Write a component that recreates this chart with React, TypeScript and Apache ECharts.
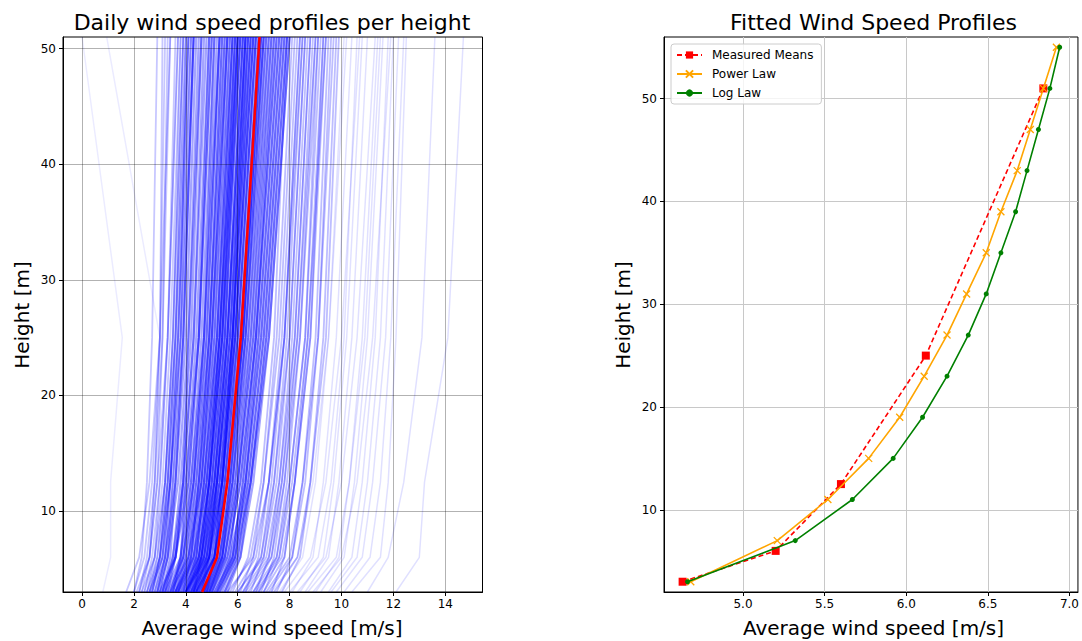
import React, { useEffect, useRef } from "react";
import * as echarts from "echarts";

// Measurement heights [m]
const heights = [3, 6, 12.5, 25, 51];

// Tick values
const leftXTicks = [0, 2, 4, 6, 8, 10, 12, 14];
const leftYTicks = [10, 20, 30, 40, 50];
const rightXTicks = [5.0, 5.5, 6.0, 6.5, 7.0];
const rightYTicks = [10, 20, 30, 40, 50];

// Daily profiles: wind speed [m/s] at heights 3, 6, 12.5, 25, 51 m
const coreDays = [
  [2.7, 3.0, 3.3, 3.6, 4.0], [2.9, 3.2, 3.4, 3.7, 4.1], [2.6, 3.1, 3.4, 3.8, 4.2], [3.0, 3.3, 3.5, 3.9, 4.3],
  [2.8, 3.2, 3.6, 3.9, 4.3], [3.1, 3.4, 3.6, 4.0, 4.4], [2.9, 3.3, 3.7, 4.1, 4.5], [3.2, 3.5, 3.8, 4.2, 4.6],
  [3.0, 3.6, 3.9, 4.1, 4.6], [3.3, 3.6, 3.9, 4.3, 4.7], [3.1, 3.5, 3.9, 4.3, 4.8], [3.4, 3.8, 4.0, 4.4, 4.9],
  [3.2, 3.6, 4.1, 4.5, 4.9], [3.5, 3.8, 4.1, 4.5, 5.0], [3.3, 3.9, 4.2, 4.6, 5.1], [3.6, 4.0, 4.3, 4.7, 5.1],
  [3.4, 3.9, 4.3, 4.7, 5.2], [3.7, 4.1, 4.4, 4.8, 5.3], [3.5, 3.9, 4.3, 4.8, 5.3], [3.6, 4.1, 4.5, 4.9, 5.4],
  [3.9, 4.2, 4.5, 4.9, 5.4], [3.7, 4.2, 4.5, 5.0, 5.5], [3.5, 4.0, 4.4, 4.9, 5.5], [3.8, 4.3, 4.6, 5.0, 5.6],
  [4.0, 4.4, 4.7, 5.1, 5.6], [3.6, 4.2, 4.6, 5.1, 5.7], [3.9, 4.4, 4.7, 5.2, 5.7], [4.1, 4.5, 4.8, 5.2, 5.8],
  [3.7, 4.3, 4.7, 5.2, 5.8], [4.0, 4.5, 4.9, 5.3, 5.9], [4.2, 4.6, 4.9, 5.4, 5.9], [3.9, 4.5, 4.9, 5.4, 6.0],
  [4.1, 4.6, 5.0, 5.4, 6.0], [4.3, 4.7, 5.0, 5.5, 6.0], [4.0, 4.6, 5.0, 5.5, 6.1], [4.2, 4.7, 5.1, 5.5, 6.1],
  [4.4, 4.8, 5.1, 5.6, 6.2], [4.1, 4.7, 5.1, 5.6, 6.2], [4.3, 4.8, 5.2, 5.7, 6.3], [4.0, 4.6, 5.1, 5.6, 6.3],
  [4.5, 4.9, 5.2, 5.7, 6.3], [4.2, 4.8, 5.2, 5.7, 6.4], [4.4, 4.9, 5.3, 5.8, 6.4], [4.3, 4.9, 5.3, 5.8, 6.5],
  [4.6, 5.0, 5.4, 5.9, 6.5], [4.4, 5.0, 5.4, 5.9, 6.6], [4.2, 4.9, 5.4, 5.9, 6.6], [4.5, 5.1, 5.5, 6.0, 6.7],
  [4.7, 5.2, 5.5, 6.0, 6.7], [4.4, 5.1, 5.5, 6.1, 6.8], [4.6, 5.2, 5.6, 6.1, 6.8], [4.8, 5.3, 5.7, 6.2, 6.9],
  [4.5, 5.1, 5.6, 6.2, 6.9], [4.7, 5.3, 5.7, 6.3, 7.0], [4.9, 5.4, 5.8, 6.3, 7.0], [4.6, 5.3, 5.8, 6.3, 7.1],
  [4.8, 5.4, 5.8, 6.4, 7.1], [5.0, 5.5, 5.9, 6.4, 7.2], [4.7, 5.4, 5.9, 6.5, 7.2], [4.9, 5.5, 6.0, 6.5, 7.3],
  [5.2, 5.7, 6.0, 6.6, 7.3], [4.8, 5.5, 6.0, 6.6, 7.4], [5.0, 5.6, 6.1, 6.7, 7.4], [5.3, 5.8, 6.2, 6.7, 7.5],
  [4.9, 5.6, 6.1, 6.7, 7.5], [5.1, 5.8, 6.2, 6.8, 7.6], [5.4, 5.9, 6.3, 6.8, 7.6], [5.0, 5.7, 6.3, 6.9, 7.7],
  [5.2, 5.9, 6.3, 6.9, 7.7], [5.5, 6.0, 6.4, 7.0, 7.8], [5.1, 5.8, 6.4, 7.0, 7.8], [5.3, 6.0, 6.5, 7.1, 7.9],
  [5.6, 6.1, 6.5, 7.1, 7.9], [5.2, 5.9, 6.5, 7.2, 8.0], [5.5, 6.1, 6.6, 7.2, 8.0], [3.4, 4.1, 4.6, 5.0, 5.6],
  [3.7, 4.4, 4.8, 5.3, 6.0], [4.6, 4.9, 5.2, 5.6, 6.2], [4.0, 4.7, 5.2, 5.8, 6.5], [4.3, 4.9, 5.4, 6.0, 6.7],
  [4.9, 5.4, 5.7, 6.2, 6.9], [3.8, 4.5, 4.9, 5.4, 6.1], [4.3, 4.6, 4.9, 5.3, 5.8], [4.7, 5.1, 5.4, 5.8, 6.4],
  [4.0, 4.8, 5.3, 5.9, 6.6], [3.2, 3.8, 4.2, 4.7, 5.3], [3.1, 3.6, 4.0, 4.5, 5.0], [4.4, 5.1, 5.6, 6.2, 7.0],
  [3.6, 4.3, 4.8, 5.3, 5.9], [4.8, 5.1, 5.4, 5.8, 6.3],
];

const calmDays = [
  [2.0, 2.3, 2.5, 2.7, 2.9], [2.3, 2.6, 2.8, 3.0, 3.2], [2.2, 2.5, 2.8, 3.1, 3.4], [2.5, 2.8, 3.0, 3.3, 3.6],
  [2.4, 2.7, 3.0, 3.3, 3.7], [2.6, 2.9, 3.2, 3.5, 3.8], [2.5, 2.9, 3.2, 3.5, 3.9], [1.7, 2.2, 2.6, 3.0, 3.4],
  [2.1, 2.6, 2.9, 3.3, 3.7], [2.7, 3.0, 3.2, 3.5, 3.9], [2.2, 2.6, 2.9, 3.1, 3.3], [2.4, 2.8, 3.1, 3.4, 3.8],
  [2.8, 3.1, 3.4, 3.7, 4.1], [2.6, 3.0, 3.3, 3.7, 4.2], [2.9, 3.2, 3.5, 3.8, 4.0], [2.3, 2.8, 3.2, 3.6, 4.1],
  [2.7, 3.1, 3.3, 3.6, 3.9], [3.0, 3.3, 3.6, 3.9, 4.3], [2.0, 2.4, 2.7, 3.0, 3.1], [2.5, 3.0, 3.4, 3.8, 4.3],
];

const breezyDays = [
  [6.1, 6.6, 7.0, 7.5, 8.1], [5.7, 6.5, 7.0, 7.6, 8.2], [6.3, 6.8, 7.2, 7.7, 8.3], [5.9, 6.7, 7.2, 7.8, 8.4],
  [6.5, 7.0, 7.4, 7.9, 8.5], [6.0, 6.9, 7.4, 8.0, 8.6], [6.7, 7.2, 7.6, 8.1, 8.7], [6.2, 7.1, 7.6, 8.2, 8.8],
  [6.9, 7.4, 7.8, 8.3, 8.9], [6.4, 7.3, 7.8, 8.4, 9.0], [7.0, 7.6, 8.0, 8.6, 9.1], [6.6, 7.5, 8.0, 8.6, 9.2],
  [7.3, 7.8, 8.2, 8.8, 9.3], [6.8, 7.7, 8.2, 8.8, 9.4], [7.5, 8.1, 8.5, 9.0, 9.5], [7.1, 8.0, 8.5, 9.1, 9.7],
  [7.7, 8.4, 8.8, 9.3, 9.8], [7.4, 8.3, 8.8, 9.4, 9.9], [5.8, 6.4, 6.9, 7.4, 7.9], [6.2, 6.9, 7.3, 7.8, 8.4],
  [5.6, 6.6, 7.2, 7.8, 8.5], [6.6, 7.3, 7.7, 8.2, 8.8], [6.3, 7.2, 7.7, 8.3, 9.0], [7.0, 7.8, 8.2, 8.7, 9.3],
  [6.7, 7.6, 8.1, 8.7, 9.4], [7.2, 8.1, 8.6, 9.1, 9.6], [6.0, 7.0, 7.5, 8.0, 8.6], [6.8, 7.5, 7.9, 8.4, 9.1],
];

const windyDays = [
  [7.6, 8.5, 9.0, 9.5, 10.1], [8.1, 8.9, 9.3, 9.8, 10.4], [7.8, 8.8, 9.4, 10.0, 10.7], [8.6, 9.5, 9.9, 10.4, 11.0],
  [8.3, 9.4, 10.0, 10.6, 11.3], [9.2, 10.1, 10.5, 11.0, 11.6], [8.9, 10.0, 10.6, 11.2, 11.9], [9.8, 10.8, 11.2, 11.7, 12.2],
  [10.4, 11.5, 11.8, 12.1, 12.5], [11.0, 11.8, 12.4, 13.1, 13.6], [12.1, 13.0, 13.2, 14.1, 14.7], [7.3, 8.3, 8.9, 9.5, 10.2],
  [9.5, 10.4, 10.8, 11.3, 11.8], [8.4, 9.3, 9.7, 10.2, 10.8], [9.0, 9.9, 10.3, 10.8, 11.4], [8.0, 9.1, 9.6, 10.1, 10.6],
  [9.6, 10.6, 11.0, 11.5, 12.0], [10.1, 11.1, 11.5, 11.9, 12.4], [8.7, 9.8, 10.3, 10.9, 11.5],
];

const faultyDays = [
  [0.8, 1.1, 1.1, 1.55, 0.0],
  [2.2, 2.6, 2.8, 3.0, 0.95],
];

// Mean of measured speeds per height
const measuredMeans = [4.63, 5.2, 5.6, 6.12, 6.84];

// Fitted profiles
const fitHeights = [3, 7, 11, 15, 19, 23, 27, 31, 35, 39, 43, 47, 51, 55];
const powerLaw = [4.68, 5.21, 5.52, 5.77, 5.96, 6.11, 6.25, 6.37, 6.49, 6.58, 6.68, 6.76, 6.84, 6.92];
const logLaw = [4.66, 5.32, 5.67, 5.92, 6.10, 6.25, 6.38, 6.49, 6.58, 6.67, 6.74, 6.81, 6.88, 6.94];

const FONT = "DejaVu Sans";

function pairs(xs: number[], ys: number[]) {
  return xs.map((v, i) => [v, ys[i]]);
}

export default function App() {
  const ref = useRef<HTMLDivElement>(null);

  useEffect(() => {
    if (!ref.current) return;
    const chart = echarts.init(ref.current, undefined, { renderer: "svg" });

    const groups = [
      { rows: faultyDays, opacity: 0.08, width: 1.5 },
      { rows: windyDays, opacity: 0.12, width: 1.5 },
      { rows: calmDays, opacity: 0.22, width: 1.8 },
      { rows: breezyDays, opacity: 0.26, width: 1.8 },
      { rows: coreDays, opacity: 0.36, width: 2.2 },
    ];

    const profileSeries: any[] = [];
    groups.forEach((g) => {
      g.rows.forEach((row) => {
        profileSeries.push({
          type: "line",
          xAxisIndex: 0,
          yAxisIndex: 0,
          data: pairs(row, heights),
          symbol: "none",
          silent: true,
          z: 2,
          lineStyle: { color: "#0000ff", opacity: g.opacity, width: g.width },
        });
      });
    });

    const tickLabel = (step: number, digits: number) => (v: number) => {
      const r = v / step;
      return Math.abs(r - Math.round(r)) < 1e-6 ? v.toFixed(digits) : "";
    };

    const axisCommon = (z: number, gridColor: string, ticks: number[]) => ({
      z,
      axisLine: { show: true, onZero: false, lineStyle: { color: "#000", width: 1 } },
      axisTick: { show: true, length: 4, customValues: ticks, lineStyle: { color: "#000", width: 1 } },
      splitLine: { show: true, lineStyle: { color: gridColor, width: 1 } },
    });

    const option: any = {
      animation: false,
      grid: [
        { left: 63, top: 37, width: 419.5, height: 555, show: true, borderColor: "#000", borderWidth: 1, containLabel: false },
        { left: 664, top: 37, width: 419, height: 555, show: true, borderColor: "#000", borderWidth: 1, containLabel: false },
      ],
      xAxis: [
        {
          type: "value", gridIndex: 0, min: -0.735, max: 15.435, splitNumber: 8,
          ...axisCommon(3, "rgba(0,0,0,0.3)", leftXTicks),
          axisLabel: { fontFamily: FONT, fontSize: 12, color: "#000", margin: 6, customValues: leftXTicks, formatter: tickLabel(2, 0) },
        },
        {
          type: "value", gridIndex: 1, min: 4.516, max: 7.052, splitNumber: 5,
          ...axisCommon(0, "#c8c8c8", rightXTicks),
          axisLabel: { fontFamily: FONT, fontSize: 12, color: "#000", margin: 6, customValues: rightXTicks, formatter: tickLabel(0.5, 1) },
        },
      ],
      yAxis: [
        {
          type: "value", gridIndex: 0, min: 3, max: 51, splitNumber: 5,
          ...axisCommon(3, "rgba(0,0,0,0.3)", leftYTicks),
          axisLabel: { fontFamily: FONT, fontSize: 12, color: "#000", margin: 7, customValues: leftYTicks, formatter: tickLabel(10, 0) },
        },
        {
          type: "value", gridIndex: 1, min: 2, max: 56, splitNumber: 5,
          ...axisCommon(0, "#c8c8c8", rightYTicks),
          axisLabel: { fontFamily: FONT, fontSize: 12, color: "#000", margin: 7, customValues: rightYTicks, formatter: tickLabel(10, 0) },
        },
      ],
      legend: {
        data: ["Measured Means", "Power Law", "Log Law"],
        orient: "vertical",
        left: 671,
        top: 44,
        itemWidth: 25,
        itemHeight: 9,
        itemGap: 7,
        padding: [5, 8, 5, 5],
        backgroundColor: "rgba(255,255,255,0.8)",
        borderColor: "#cccccc",
        borderWidth: 1,
        borderRadius: 3,
        textStyle: { fontFamily: FONT, fontSize: 12, color: "#000", padding: [0, 0, 0, 5] },
      },
      graphic: [
        { type: "text", x: 272, y: 22, style: { text: "Daily wind speed profiles per height", font: `22px "${FONT}"`, fill: "#000", align: "center", verticalAlign: "middle" } },
        { type: "text", x: 873.5, y: 22, style: { text: "Fitted Wind Speed Profiles", font: `22px "${FONT}"`, fill: "#000", align: "center", verticalAlign: "middle" } },
        { type: "text", x: 272, y: 628, style: { text: "Average wind speed [m/s]", font: `20px "${FONT}"`, fill: "#000", align: "center", verticalAlign: "middle" } },
        { type: "text", x: 873.5, y: 628, style: { text: "Average wind speed [m/s]", font: `20px "${FONT}"`, fill: "#000", align: "center", verticalAlign: "middle" } },
        { type: "text", x: 22, y: 315, rotation: Math.PI / 2, style: { text: "Height [m]", font: `20px "${FONT}"`, fill: "#000", align: "center", verticalAlign: "middle" } },
        { type: "text", x: 623, y: 315, rotation: Math.PI / 2, style: { text: "Height [m]", font: `20px "${FONT}"`, fill: "#000", align: "center", verticalAlign: "middle" } },
      ],
      series: [
        ...profileSeries,
        {
          type: "line", xAxisIndex: 0, yAxisIndex: 0, data: pairs(measuredMeans, heights),
          symbol: "none", silent: true, z: 5,
          lineStyle: { color: "#ff0000", width: 2.6 },
        },
        {
          name: "Measured Means", type: "line", xAxisIndex: 1, yAxisIndex: 1,
          data: pairs(measuredMeans, heights), color: "#ff0000",
          symbol: "rect", symbolSize: 8, showAllSymbol: true,
          lineStyle: { color: "#ff0000", width: 1.6, type: [5, 3] },
          itemStyle: { color: "#ff0000", borderWidth: 0 },
          z: 3,
        },
        {
          name: "Power Law", type: "line", xAxisIndex: 1, yAxisIndex: 1,
          data: pairs(powerLaw, fitHeights), color: "#ffa500",
          symbol: "path://M0,0L10,10M10,0L0,10", symbolSize: 7, showAllSymbol: true,
          lineStyle: { color: "#ffa500", width: 1.6 },
          itemStyle: { color: "#ffa500", borderColor: "#ffa500", borderWidth: 1.3 },
          z: 4,
        },
        {
          name: "Log Law", type: "line", xAxisIndex: 1, yAxisIndex: 1,
          data: pairs(logLaw, fitHeights), color: "#008000",
          symbol: "circle", symbolSize: 5, showAllSymbol: true,
          lineStyle: { color: "#008000", width: 1.6 },
          itemStyle: { color: "#008000", borderWidth: 0 },
          z: 5,
        },
      ],
    };

    chart.setOption(option);
    return () => chart.dispose();
  }, []);

  return (
    <div
      ref={ref}
      style={{ position: "absolute", left: 0, top: 0, width: 1082, height: 641, background: "#fff" }}
    />
  );
}
